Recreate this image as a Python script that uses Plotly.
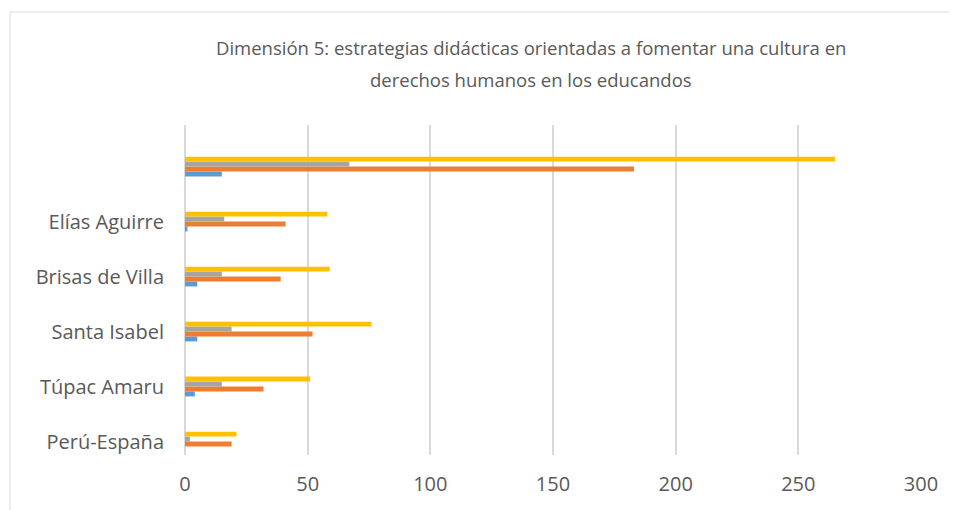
import plotly.graph_objects as go

# categories from bottom to top (top row is the unlabeled total)
categories = ["Perú-España", "Túpac Amaru", "Santa Isabel", "Brisas de Villa", "Elías Aguirre", " "]

serie_1 = [0, 4, 5, 5, 1, 15]
serie_2 = [19, 32, 52, 39, 41, 183]
serie_3 = [2, 15, 19, 15, 16, 67]
serie_4 = [21, 51, 76, 59, 58, 265]

series_names = ["Serie 1", "Serie 2", "Serie 3", "Serie 4"]
x_ticks = [0, 50, 100, 150, 200, 250, 300]

colors = ["#5B9BD5", "#ED7D31", "#A5A5A5", "#FFC000"]
text_color = "#595959"
font_family = "Open Sans"

fig = go.Figure()
for name, vals, col in zip(series_names, [serie_1, serie_2, serie_3, serie_4], colors):
    fig.add_trace(go.Bar(
        x=vals,
        y=categories,
        orientation="h",
        name=name,
        marker=dict(color=col, line=dict(width=0)),
    ))

# page body has an 8px margin, so the figure is laid out 8px up/left
OFF = 8
W, H = 957, 510
L = 185 - OFF
T = 125 - OFF
R = W - (921 - OFF)
B = H - (455 - OFF)
pw, ph = W - L - R, H - T - B


def px_x(x):
    return (x - OFF - L) / pw


def px_y(y):
    return (H - B - (y - OFF)) / ph


border = dict(color="#D9D9D9", width=1)

fig.update_layout(
    width=W,
    height=H,
    barmode="group",
    bargap=0.64,
    bargroupgap=0,
    showlegend=False,
    paper_bgcolor="white",
    plot_bgcolor="white",
    margin=dict(l=L, r=R, t=T, b=B, autoexpand=False),
    font=dict(family=font_family, color=text_color),
    xaxis=dict(
        range=[0, 300],
        tickvals=x_ticks,
        showgrid=True,
        gridcolor="#D9D9D9",
        gridwidth=2,
        zeroline=True,
        zerolinecolor="#D9D9D9",
        zerolinewidth=2,
        showline=False,
        ticks="",
        tickfont=dict(size=20, color=text_color),
        ticklabelstandoff=15,
    ),
    yaxis=dict(
        type="category",
        categoryorder="array",
        categoryarray=categories,
        range=[-0.245, 5.755],
        showgrid=False,
        zeroline=False,
        showline=False,
        ticks="",
        tickfont=dict(size=20, color=text_color),
        ticklabelstandoff=20,
    ),
    # chart-area border: only the top and left edges are visible in the crop
    shapes=[
        dict(type="line", xref="paper", yref="paper",
             x0=px_x(10), x1=px_x(W + 10), y0=px_y(12), y1=px_y(12),
             line=border, layer="below"),
        dict(type="line", xref="paper", yref="paper",
             x0=px_x(10), x1=px_x(10), y0=px_y(12), y1=px_y(H + 10),
             line=border, layer="below"),
    ],
    annotations=[
        dict(
            text="Dimensión 5: estrategias didácticas orientadas a fomentar una cultura en",
            xref="paper", yref="paper",
            x=px_x(531), y=px_y(48),
            xanchor="center", yanchor="middle",
            showarrow=False,
            font=dict(size=18.5, color=text_color),
        ),
        dict(
            text="derechos humanos en los educandos",
            xref="paper", yref="paper",
            x=px_x(531), y=px_y(79),
            xanchor="center", yanchor="middle",
            showarrow=False,
            font=dict(size=18.5, color=text_color),
        ),
    ],
)

fig.write_html("out.html")
